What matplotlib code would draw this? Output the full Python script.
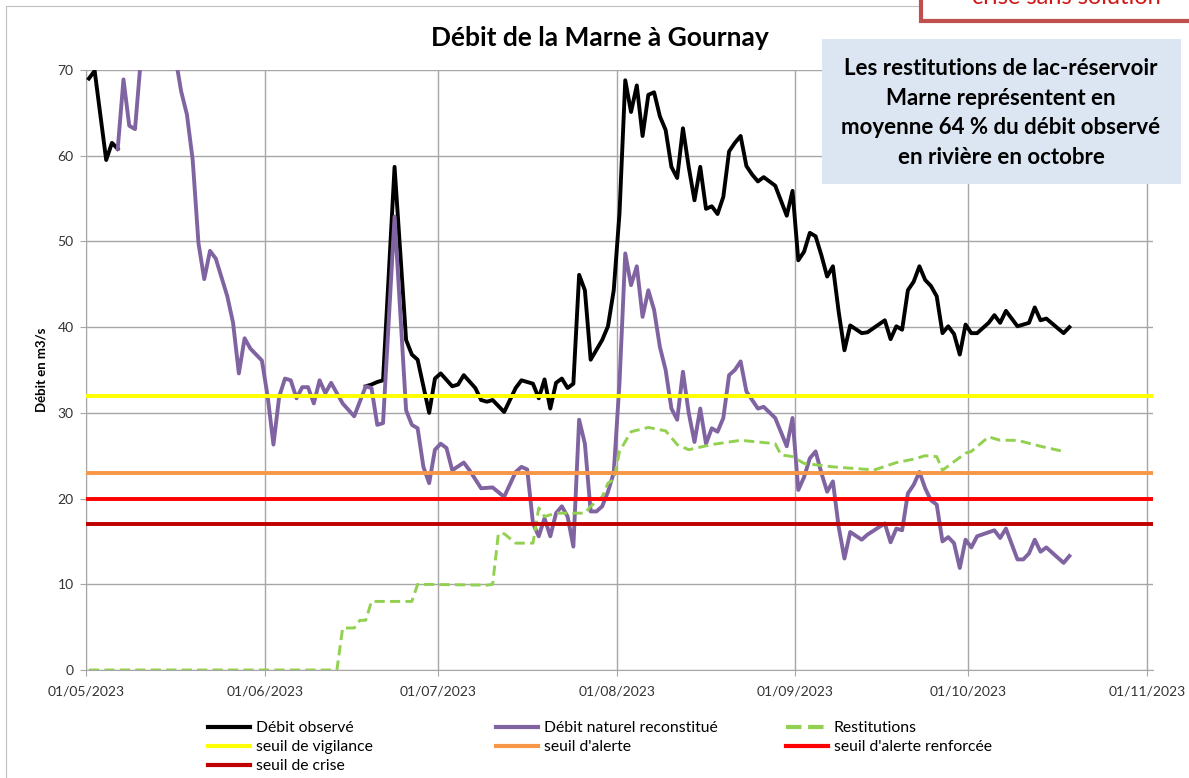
"""Débit de la Marne à Gournay, May-Oct 2023: observed, natural and reservoir releases."""

import matplotlib

matplotlib.use("Agg")
import matplotlib.dates as mdates  # noqa: E402
import matplotlib.pyplot as plt  # noqa: E402
import pandas as pd  # noqa: E402
from matplotlib.lines import Line2D  # noqa: E402
from matplotlib.patches import Rectangle  # noqa: E402

YEAR = "2023-"

# Débit observé (hidden under the purple line between 6 May and 18 June -> gap)
OBS_DATES = [
    "05-01", "05-02", "05-04", "05-05", "05-06", "06-01",
    "06-18", "06-19", "06-20", "06-21", "06-23", "06-25", "06-26", "06-27", "06-29", "06-30",
    "07-01", "07-03", "07-04", "07-05", "07-07", "07-08", "07-09", "07-10", "07-12", "07-14",
    "07-15", "07-17", "07-18", "07-19", "07-20", "07-21", "07-22", "07-23", "07-24", "07-25",
    "07-26", "07-27", "07-29", "07-30", "07-31",
    "08-01", "08-02", "08-03", "08-04", "08-05", "08-06", "08-07", "08-08", "08-09", "08-10",
    "08-11", "08-12", "08-13", "08-14", "08-15", "08-16", "08-17", "08-18", "08-19", "08-20",
    "08-21", "08-22", "08-23", "08-24", "08-25", "08-26", "08-28", "08-30", "08-31",
    "09-01", "09-02", "09-03", "09-04", "09-05", "09-06", "09-07", "09-08", "09-09", "09-10",
    "09-12", "09-13", "09-16", "09-17", "09-18", "09-19", "09-20", "09-21", "09-22", "09-23",
    "09-24", "09-25", "09-26", "09-27", "09-28", "09-29", "09-30",
    "10-01", "10-02", "10-04", "10-05", "10-06", "10-07", "10-09", "10-11", "10-12", "10-13",
    "10-14", "10-17", "10-18",
]
OBS_VALUES = [
    69.0, 69.9, 59.5, 61.5, 60.8, None,
    33.1, 33.3, 33.6, 33.8, 58.7, 38.5, 36.8, 36.2, 30.0, 34.0,
    34.6, 33.1, 33.3, 34.4, 32.9, 31.5, 31.3, 31.5, 30.1, 32.9,
    33.8, 33.4, 31.7, 33.9, 30.5, 33.5, 34.0, 32.9, 33.4, 46.1,
    44.3, 36.2, 38.5, 40.1, 44.3,
    53.3, 68.8, 65.1, 68.2, 62.3, 67.1, 67.4, 64.6, 63.0, 58.7,
    57.4, 63.2, 58.7, 54.8, 58.7, 53.8, 54.1, 53.2, 55.2, 60.5,
    61.5, 62.3, 58.8, 57.8, 57.0, 57.5, 56.5, 53.0, 55.9,
    47.8, 48.8, 51.0, 50.6, 48.4, 45.9, 47.1, 41.8, 37.3, 40.2,
    39.3, 39.4, 40.8, 38.6, 40.1, 39.7, 44.3, 45.3, 47.1, 45.5,
    44.8, 43.6, 39.3, 40.1, 39.2, 36.8, 40.3,
    39.3, 39.3, 40.5, 41.4, 40.5, 41.9, 40.1, 40.5, 42.3, 40.8,
    41.0, 39.3, 40.0,
]

# Débit naturel reconstitué (goes off the top of the chart mid-May)
NAT_DATES = [
    "05-06", "05-07", "05-08", "05-09", "05-10", "05-11", "05-12", "05-13", "05-14", "05-15",
    "05-16", "05-17", "05-18", "05-19", "05-20", "05-21", "05-22", "05-23", "05-25", "05-26",
    "05-27", "05-28", "05-29", "05-31",
    "06-01", "06-02", "06-03", "06-04", "06-05", "06-06", "06-07", "06-08", "06-09", "06-10",
    "06-11", "06-12", "06-13", "06-14", "06-16", "06-18", "06-19", "06-20", "06-21", "06-23",
    "06-25", "06-26", "06-27", "06-28", "06-29", "06-30",
    "07-01", "07-02", "07-03", "07-05", "07-06", "07-08", "07-10", "07-12", "07-14", "07-15",
    "07-16", "07-17", "07-18", "07-19", "07-20", "07-21", "07-22", "07-23", "07-24", "07-25",
    "07-26", "07-27", "07-28", "07-29", "07-30", "07-31",
    "08-01", "08-02", "08-03", "08-04", "08-05", "08-06", "08-07", "08-08", "08-09", "08-10",
    "08-11", "08-12", "08-13", "08-14", "08-15", "08-16", "08-17", "08-18", "08-19", "08-20",
    "08-21", "08-22", "08-23", "08-24", "08-25", "08-26", "08-28", "08-30", "08-31",
    "09-01", "09-02", "09-03", "09-04", "09-05", "09-06", "09-07", "09-08", "09-09", "09-10",
    "09-12", "09-13", "09-16", "09-17", "09-18", "09-19", "09-20", "09-21", "09-22", "09-23",
    "09-24", "09-25", "09-26", "09-27", "09-28", "09-29", "09-30",
    "10-01", "10-02", "10-05", "10-06", "10-07", "10-09", "10-10", "10-11", "10-12", "10-13",
    "10-14", "10-17", "10-18",
]
NAT_VALUES = [
    60.8, 68.9, 63.5, 63.1, 71.2, 78.0, 84.0, 86.0, 82.0, 75.0,
    71.5, 67.5, 64.8, 59.5, 49.8, 45.6, 48.9, 48.0, 43.6, 40.5,
    34.6, 38.7, 37.5, 36.1,
    31.9, 26.3, 31.9, 34.0, 33.8, 31.7, 33.0, 33.0, 31.1, 33.8,
    32.3, 33.5, 32.3, 31.1, 29.6, 33.1, 32.9, 28.6, 28.8, 52.9,
    30.3, 28.6, 28.2, 23.7, 21.8, 25.7,
    26.4, 25.9, 23.3, 24.2, 23.3, 21.2, 21.3, 20.2, 23.1, 23.7,
    23.4, 17.1, 15.6, 17.7, 15.6, 18.3, 19.1, 17.9, 14.4, 29.2,
    26.4, 18.5, 18.5, 19.1, 20.8, 23.0,
    33.5, 48.6, 44.9, 47.1, 41.2, 44.3, 42.0, 37.7, 35.0, 30.5,
    29.2, 34.8, 30.0, 26.6, 30.5, 26.4, 28.2, 27.8, 29.4, 34.4,
    35.0, 36.0, 32.5, 31.5, 30.5, 30.7, 29.4, 26.1, 29.4,
    21.0, 22.5, 24.7, 25.5, 23.0, 20.8, 22.0, 16.7, 13.0, 16.1,
    15.2, 15.8, 17.1, 14.9, 16.5, 16.3, 20.6, 21.6, 23.1, 21.2,
    19.8, 19.3, 15.0, 15.5, 14.8, 11.9, 15.2,
    14.3, 15.6, 16.3, 15.4, 16.5, 12.9, 12.9, 13.6, 15.2, 13.8,
    14.3, 12.5, 13.3,
]

# Restitutions du lac-réservoir
RES_DATES = [
    "05-01", "06-13", "06-14", "06-16", "06-17", "06-18", "06-19", "06-26", "06-27",
    "07-09", "07-10", "07-11", "07-12", "07-14", "07-17", "07-18", "07-19", "07-21", "07-26",
    "07-27", "07-29", "07-30", "07-31",
    "08-01", "08-03", "08-06", "08-09", "08-11", "08-13", "08-17", "08-22", "08-28", "08-29",
    "08-31",
    "09-02", "09-07", "09-13", "09-14", "09-18", "09-21", "09-23", "09-25", "09-26", "09-28",
    "09-30",
    "10-01", "10-04", "10-06", "10-09", "10-13", "10-17",
]
RES_VALUES = [
    0.0, 0.0, 4.9, 4.9, 5.8, 5.8, 8.0, 8.0, 10.0,
    9.9, 10.0, 15.9, 15.9, 14.8, 14.8, 18.9, 17.9, 18.3, 18.3,
    19.1, 20.2, 21.8, 22.2,
    25.5, 27.8, 28.3, 27.9, 26.3, 25.7, 26.3, 26.8, 26.4, 25.1,
    24.9,
    24.1, 23.7, 23.4, 23.3, 24.2, 24.6, 25.0, 24.9, 23.3, 24.3,
    25.3,
    25.5, 27.2, 26.8, 26.8, 26.1, 25.5,
]

THRESHOLD_LABELS = ["seuil de vigilance", "seuil d'alerte", "seuil d'alerte renforcée", "seuil de crise"]
THRESHOLD_VALUES = [32, 23, 20, 17]
THRESHOLD_COLORS = ["#FFFF00", "#F79646", "#FF0000", "#C00000"]

TITLE = "Débit de la Marne à Gournay"
NOTE = ("Les restitutions de lac-réservoir\nMarne représentent en\n"
        "moyenne 64 % du débit observé\nen rivière en octobre")

W, H = 1189, 778
GRID = "#A6A6A6"

plt.rcParams["font.family"] = ["Lato", "DejaVu Sans"]


def to_dates(days):
    # Excel puts each daily point in the middle of its day slot
    return pd.to_datetime([YEAR + d for d in days]) + pd.Timedelta(hours=12)


def to_vals(vals):
    return [float("nan") if v is None else v for v in vals]


def fx(px):
    return px / W


def fy(py):
    return 1 - py / H


fig = plt.figure(figsize=(W / 100, H / 100), dpi=100)
ax = fig.add_axes([fx(86), fy(670), fx(1153) - fx(86), fy(70) - fy(670)])

ax.plot(to_dates(OBS_DATES), to_vals(OBS_VALUES), color="black", lw=2.8,
        solid_joinstyle="round", zorder=3, label="Débit observé")
ax.plot(to_dates(NAT_DATES), NAT_VALUES, color="#8064A2", lw=2.8,
        solid_joinstyle="round", zorder=4, label="Débit naturel reconstitué")
ax.plot(to_dates(RES_DATES), RES_VALUES, color="#92D050", lw=2.1, ls=(0, (3.5, 1.8)),
        zorder=5, label="Restitutions")
for lab, val, col in zip(THRESHOLD_LABELS, THRESHOLD_VALUES, THRESHOLD_COLORS):
    ax.axhline(val, color=col, lw=2.8, zorder=6, label=lab)

ax.set_xlim(pd.Timestamp("2023-05-01"), pd.Timestamp("2023-11-02"))
ax.set_ylim(0, 70)
ax.set_yticks(range(0, 71, 10))
ax.xaxis.set_major_locator(mdates.MonthLocator())
ax.xaxis.set_major_formatter(mdates.DateFormatter("%d/%m/%Y"))
ax.grid(True, color=GRID, lw=1, zorder=0)
ax.set_axisbelow(True)
for side in ("top", "right"):
    ax.spines[side].set_visible(False)
for side in ("left", "bottom"):
    ax.spines[side].set_color(GRID)
ax.tick_params(length=4, color=GRID, labelsize=10, labelcolor="#333333", pad=5)
ax.tick_params(axis="x", pad=7)
ax.set_ylabel("Débit en m3/s", fontsize=9.5, fontweight="bold")
ax.yaxis.set_label_coords((48 - 86) / (1153 - 86), 0.5)

fig.text(fx(600), fy(38), TITLE, ha="center", va="center", fontsize=19, fontweight="bold")

# note box
fig.patches.append(Rectangle((fx(822), fy(184)), fx(1181) - fx(822), fy(39) - fy(184),
                             transform=fig.transFigure, fc="#DCE6F2", ec="none", zorder=1))
fig.text(fx(1001), fy(113), NOTE, ha="center", va="center", fontsize=16,
         fontweight="bold", linespacing=1.5, zorder=2)

# outer chart border and the cut-off box above it
fig.patches.append(Rectangle((fx(6), fy(790)), fx(1250), fy(6) - fy(790),
                             transform=fig.transFigure, fill=False, ec="#BFBFBF", lw=0.8))
fig.patches.append(Rectangle((fx(921), fy(21)), fx(300), fy(-20) - fy(21),
                             transform=fig.transFigure, fc="white", ec="#C0504D", lw=3))
fig.text(fx(1066), fy(4), "crise sans solution", ha="center", va="baseline",
         fontsize=17, color="#D01818")

# legend: three columns filled row by row
handles, labels = ax.get_legend_handles_labels()
by_label = dict(zip(labels, handles))


def legend_handle(lab):
    h = by_label[lab]
    return Line2D([], [], color=h.get_color(), lw=3, ls=h.get_linestyle())


columns = [
    (208, ["Débit observé", "seuil de vigilance", "seuil de crise"]),
    (496, ["Débit naturel reconstitué", "seuil d'alerte"]),
    (786, ["Restitutions", "seuil d'alerte renforcée"]),
]
for x0, labs in columns:
    fig.legend([legend_handle(lab) for lab in labs], labs, loc="upper left",
               bbox_to_anchor=(fx(x0), fy(721)), frameon=False, fontsize=11.3,
               handlelength=2.7, handletextpad=0.35, labelspacing=0.32,
               borderpad=0, borderaxespad=0)

fig.savefig("out.png", dpi=100)
